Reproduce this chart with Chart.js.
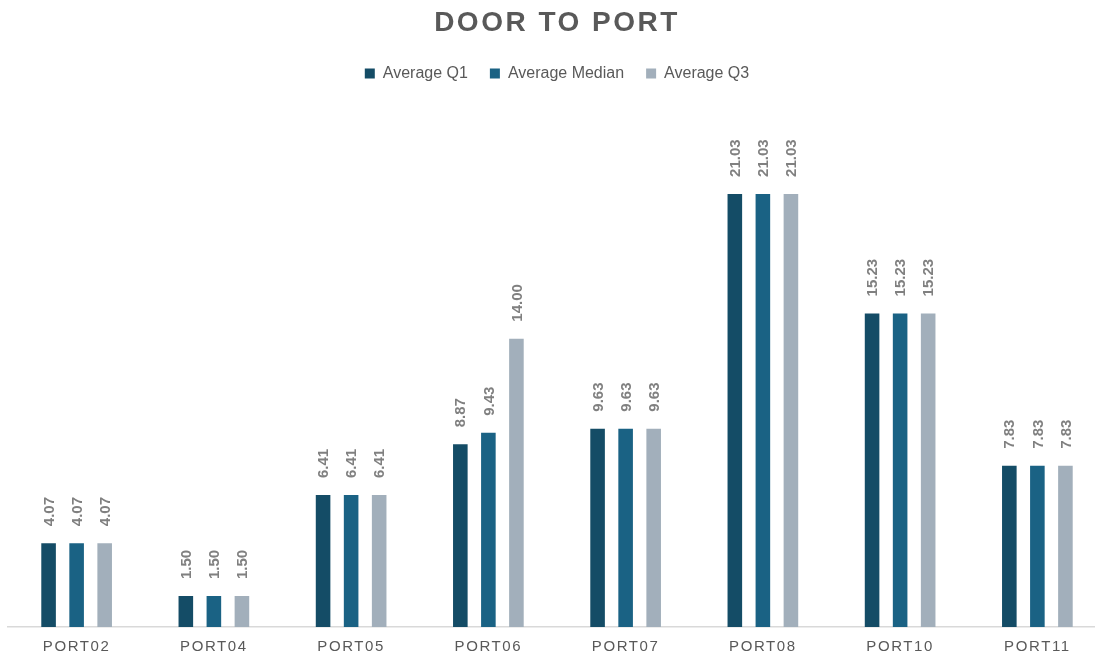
<!DOCTYPE html>
<html>
<head>
<meta charset="utf-8">
<script src="https://cdn.jsdelivr.net/npm/chart.js@4/dist/chart.umd.min.js"></script>
<style>
  html, body { margin: 0; padding: 0; background: #ffffff; overflow: hidden; }
  #wrap { width: 1112px; height: 670px; position: relative; }
</style>
</head>
<body>
<div id="wrap"><canvas id="chart"></canvas></div>
<script>
// Ports on the category axis
const ports = ['PORT02', 'PORT04', 'PORT05', 'PORT06', 'PORT07', 'PORT08', 'PORT10', 'PORT11'];

// Door-to-port averages per port
const averageQ1     = [4.07, 1.50, 6.41, 8.87, 9.63, 21.03, 15.23, 7.83];
const averageMedian = [4.07, 1.50, 6.41, 9.43, 9.63, 21.03, 15.23, 7.83];
const averageQ3     = [4.07, 1.50, 6.41, 14.00, 9.63, 21.03, 15.23, 7.83];

const FONT = "'Liberation Sans', Arial, sans-serif";
const TEXT_GREY = '#595959';

// Rotated value labels above each bar
const valueLabels = {
  id: 'valueLabels',
  afterDatasetsDraw(chart) {
    const ctx = chart.ctx;
    ctx.save();
    ctx.fillStyle = '#808080';
    ctx.font = 'bold 15px ' + FONT;
    ctx.textAlign = 'left';
    ctx.textBaseline = 'middle';
    chart.data.datasets.forEach((ds, i) => {
      chart.getDatasetMeta(i).data.forEach((bar, j) => {
        ctx.save();
        ctx.translate(bar.x, bar.y - 17);
        ctx.rotate(-Math.PI / 2);
        ctx.fillText(ds.data[j].toFixed(2), 0, 1);
        ctx.restore();
      });
    });
    ctx.restore();
  }
};

// Letter-spaced title and category labels
const spacedText = {
  id: 'spacedText',
  afterLayout(chart) {
    const wrap = (obj, method, spacing) => {
      if (!obj || obj['_spaced_' + method]) return;
      const orig = obj[method];
      obj[method] = function (...args) {
        const ctx = this.ctx || chart.ctx;
        ctx.save();
        ctx.letterSpacing = spacing;
        const r = orig.apply(this, args);
        ctx.restore();
        return r;
      };
      obj['_spaced_' + method] = true;
    };
    wrap(chart.titleBlock, 'draw', '2.5px');
    wrap(chart.scales.x, 'drawLabels', '1.6px');
  }
};

new Chart(document.getElementById('chart'), {
  type: 'bar',
  data: {
    labels: ports,
    datasets: [
      { label: 'Average Q1', data: averageQ1, backgroundColor: '#144c66' },
      { label: 'Average Median', data: averageMedian, backgroundColor: '#1a6284' },
      { label: 'Average Q3', data: averageQ3, backgroundColor: '#a2afbb' }
    ]
  },
  options: {
    responsive: true,
    maintainAspectRatio: false,
    animation: false,
    devicePixelRatio: 1,
    layout: { padding: { left: 8, right: 6, top: 0, bottom: 3 } },
    datasets: { bar: { categoryPercentage: 0.613, barPercentage: 0.52 } },
    plugins: {
      title: {
        display: true,
        text: 'DOOR TO PORT',
        color: TEXT_GREY,
        font: { family: FONT, size: 28, weight: 'bold' },
        padding: { top: 6, bottom: 4 }
      },
      legend: {
        position: 'top',
        labels: {
          color: TEXT_GREY,
          font: { family: FONT, size: 16 },
          boxWidth: 10,
          boxHeight: 10,
          padding: 22
        }
      },
      tooltip: { enabled: false }
    },
    scales: {
      x: {
        grid: { display: false, drawTicks: false },
        border: { display: true, color: '#d9d9d9', width: 1.5 },
        ticks: {
          color: TEXT_GREY,
          font: { family: FONT, size: 15 },
          padding: 11,
          maxRotation: 0,
          autoSkip: false
        }
      },
      y: {
        display: false,
        min: 0,
        max: 26
      }
    }
  },
  plugins: [spacedText, valueLabels]
});
</script>
</body>
</html>
